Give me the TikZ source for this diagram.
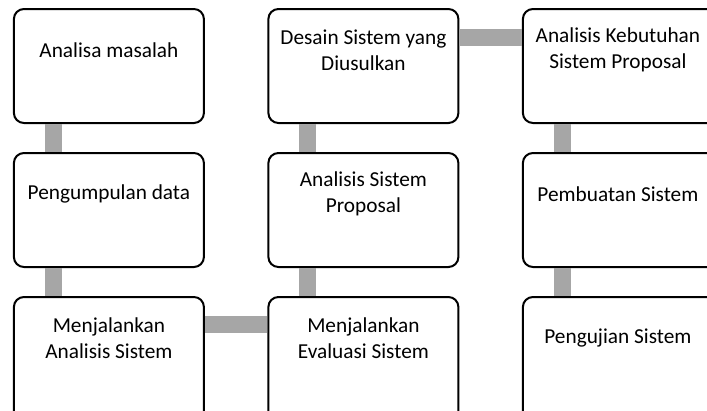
\documentclass[tikz,border=0pt]{standalone}
\usepackage{fontspec}
\setmainfont{Carlito}
\usetikzlibrary{positioning}

\begin{document}
\begin{tikzpicture}[x=1pt, y=1pt,
    stepbox/.style={draw, line width=2pt, rounded corners=10pt, fill=white,
      minimum width=190pt, minimum height=114pt, inner sep=0pt, outer sep=0pt},
    steptext/.style={align=center, font=\fontsize{21.3}{26}\selectfont, inner sep=0pt},
    link/.style={draw=black!35, line width=17pt, shorten <=1pt, shorten >=1pt}]
    \useasboundingbox (0,0) rectangle (707,-410);
    % Boxes (bottom row and right column run past the edge)
    \node[stepbox] (masalah) at (108.9,-66) {};
    \node[stepbox, below=30pt of masalah] (data) {};
    \node[stepbox, below=30pt of data, minimum height=130pt] (jalanAnalisis) {};
    \node[stepbox, right=64.5pt of jalanAnalisis.north east, anchor=north west, minimum height=130pt] (jalanEvaluasi) {};
    \node[stepbox, above=30pt of jalanEvaluasi] (analisisProposal) {};
    \node[stepbox, above=30pt of analisisProposal] (desain) {};
    \node[stepbox, right=64.5pt of desain, minimum width=210pt] (kebutuhan) {};
    \node[stepbox, below=30pt of kebutuhan, minimum width=210pt] (pembuatan) {};
    \node[stepbox, below=30pt of pembuatan, minimum width=210pt, minimum height=130pt] (pengujian) {};

    % Labels
    \node[steptext] (masalahT) at ([xshift=95pt,yshift=-41pt]masalah.north west) {Analisa masalah};
    \node[steptext] (dataT) at ([xshift=95pt,yshift=-41pt]data.north west) {Pengumpulan data};
    \node[steptext] (jalanAnalisisT) at ([xshift=95pt,yshift=-41pt]jalanAnalisis.north west) {Menjalankan\\Analisis Sistem};
    \node[steptext] (jalanEvaluasiT) at ([xshift=95pt,yshift=-41pt]jalanEvaluasi.north west) {Menjalankan\\Evaluasi Sistem};
    \node[steptext] (analisisProposalT) at ([xshift=95pt,yshift=-41pt]analisisProposal.north west) {Analisis Sistem\\Proposal};
    \node[steptext] (desainT) at ([xshift=95pt,yshift=-41pt]desain.north west) {Desain Sistem yang\\Diusulkan};
    \node[steptext] (kebutuhanT) at ([xshift=95pt,yshift=-41pt]kebutuhan.north west) {Analisis Kebutuhan\\Sistem Proposal};
    \node[steptext] (pembuatanT) at ([xshift=95pt,yshift=-41pt]pembuatan.north west) {Pembuatan Sistem};
    \node[steptext] (pengujianT) at ([xshift=95pt,yshift=-41pt]pengujian.north west) {Pengujian Sistem};

    % Links
    \draw[link] ([xshift=39.5pt]masalah.south west) -- ([xshift=39.5pt]data.north west);
    \draw[link] ([xshift=39.5pt]data.south west) -- ([xshift=39.5pt]jalanAnalisis.north west);
    \draw[link] ([yshift=-27.5pt]jalanAnalisis.north east) -- ([yshift=-27.5pt]jalanEvaluasi.north west);
    \draw[link] ([xshift=39.5pt]jalanEvaluasi.north west) -- ([xshift=39.5pt]analisisProposal.south west);
    \draw[link] ([xshift=39.5pt]analisisProposal.north west) -- ([xshift=39.5pt]desain.south west);
    \draw[link] ([yshift=-28pt]desain.north east) -- ([yshift=-28pt]kebutuhan.north west);
    \draw[link] ([xshift=39.5pt]kebutuhan.south west) -- ([xshift=39.5pt]pembuatan.north west);
    \draw[link] ([xshift=39.5pt]pembuatan.south west) -- ([xshift=39.5pt]pengujian.north west);
\end{tikzpicture}
\end{document}
